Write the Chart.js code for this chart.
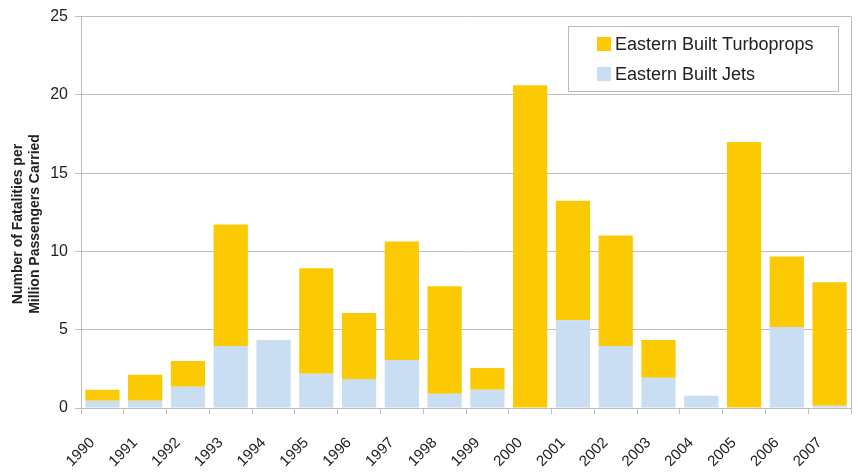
<!DOCTYPE html>
<html>
<head>
<meta charset="utf-8">
<script src="https://cdn.jsdelivr.net/npm/chart.js@4.4.1/dist/chart.umd.min.js"></script>
<style>
  html, body { margin: 0; padding: 0; background: #fff; }
  #wrap { width: 858px; height: 473px; }
</style>
</head>
<body>
<div id="wrap"><canvas id="myChart" width="858" height="473"></canvas></div>
<script>
var years = ["1990", "1991", "1992", "1993", "1994", "1995", "1996", "1997", "1998", "1999",
             "2000", "2001", "2002", "2003", "2004", "2005", "2006", "2007"];
var jets = [0.47, 0.47, 1.36, 3.96, 4.34, 2.18, 1.86, 3.07, 0.91, 1.17,
            0, 5.61, 3.96, 1.93, 0.78, 0, 5.17, 0.15];
var turboprops = [0.70, 1.65, 1.64, 7.76, 0, 6.74, 4.20, 7.57, 6.87, 1.39,
                  20.61, 7.63, 7.06, 2.41, 0, 16.99, 4.51, 7.88];
var yTicks = [0, 5, 10, 15, 20, 25];
var yTitle = ["Number of Fatalities per", "Million Passengers Carried"];

var yellow = "#FBCA05";
var blue = "#C9DEF2";
var gridGray = "#BDBDBD";

// legend box + y title + right border drawn by hand
var extras = {
    id: "extras",
    afterDraw: function(chart) {
        var ctx = chart.ctx;
        var a = chart.chartArea;
        ctx.save();
        // right border of plot area
        ctx.strokeStyle = gridGray;
        ctx.lineWidth = 1;
        ctx.beginPath();
        ctx.moveTo(a.right + 0.5, a.top);
        ctx.lineTo(a.right + 0.5, a.bottom);
        ctx.stroke();

        // legend
        ctx.fillStyle = "#fff";
        ctx.fillRect(568, 26, 270, 65);
        ctx.strokeStyle = "#BBBBBB";
        ctx.strokeRect(568.5, 26.5, 270, 65);
        var ds = chart.data.datasets.slice().reverse();
        ctx.font = "18px 'Liberation Sans', Arial, sans-serif";
        ctx.textBaseline = "middle";
        ds.forEach(function(d, i) {
            var cy = 44 + i * 30;
            ctx.fillStyle = d.backgroundColor;
            ctx.fillRect(597, cy - 7, 14, 14);
            ctx.fillStyle = "#222";
            ctx.fillText(d.label, 615, cy + 1);
        });

        // y axis title
        ctx.translate(0, 224);
        ctx.rotate(-Math.PI / 2);
        ctx.font = "bold 14px 'Liberation Sans', Arial, sans-serif";
        ctx.textAlign = "center";
        ctx.fillStyle = "#222";
        ctx.fillText(yTitle[0], 0, 18);
        ctx.fillText(yTitle[1], 0, 35);
        ctx.restore();
    }
};

new Chart("myChart", {
    type: "bar",
    data: {
        labels: years,
        datasets: [{
            label: "Eastern Built Jets",
            data: jets,
            backgroundColor: blue,
            borderWidth: 0,
            barPercentage: 0.8,
            categoryPercentage: 1.0
        }, {
            label: "Eastern Built Turboprops",
            data: turboprops,
            backgroundColor: yellow,
            borderWidth: 0,
            barPercentage: 0.8,
            categoryPercentage: 1.0
        }]
    },
    options: {
        responsive: false,
        animation: false,
        layout: { padding: { top: 15, right: 7, left: 0, bottom: 0 } },
        plugins: {
            legend: { display: false },
            tooltip: { enabled: false }
        },
        scales: {
            x: {
                stacked: true,
                grid: {
                    drawOnChartArea: false,
                    drawTicks: true,
                    tickLength: 6,
                    color: gridGray,
                    offset: true
                },
                border: { color: gridGray },
                ticks: {
                    color: "#222",
                    font: { family: "'Liberation Sans', Arial, sans-serif", size: 15 },
                    minRotation: 45,
                    maxRotation: 45,
                    padding: 20,
                    labelOffset: -10
                },
                afterFit: function(scale) {
                    scale.height = 65;
                    scale.paddingRight = 0;
                    scale.paddingLeft = 0;
                }
            },
            y: {
                stacked: true,
                min: 0,
                max: 25,
                afterBuildTicks: function(scale) {
                    scale.ticks = yTicks.map(function(v) { return { value: v }; });
                },
                grid: {
                    color: gridGray,
                    lineWidth: 1,
                    tickLength: 6
                },
                border: { color: gridGray },
                ticks: {
                    color: "#222",
                    font: { family: "'Liberation Sans', Arial, sans-serif", size: 16 },
                    padding: 7
                },
                afterFit: function(scale) { scale.width = 81; }
            }
        }
    },
    plugins: [extras]
});
</script>
</body>
</html>
